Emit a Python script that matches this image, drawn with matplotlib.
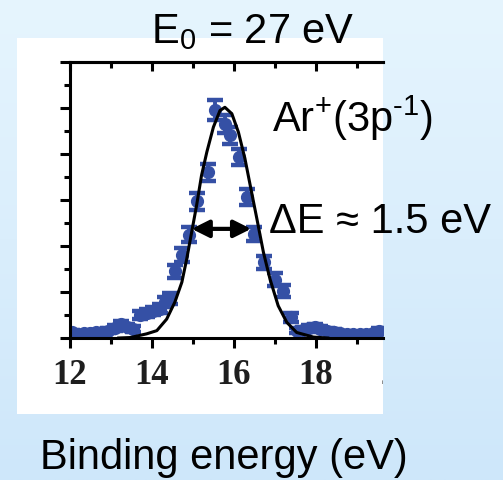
import numpy as np
import matplotlib.pyplot as plt
from matplotlib.patches import Rectangle
from matplotlib.transforms import Bbox, TransformedBbox, offset_copy

plt.rcParams['font.family'] = ['Liberation Sans', 'DejaVu Sans']
plt.rcParams['mathtext.fontset'] = 'custom'
plt.rcParams['mathtext.rm'] = 'Liberation Sans'
plt.rcParams['mathtext.it'] = 'Liberation Sans'

# measured points (binding energy in eV, intensity in arb. units)
energy = [12.05, 12.2, 12.35, 12.5, 12.65, 12.8, 12.95, 13.1, 13.25, 13.4,
          13.55, 13.72, 13.88, 14.04, 14.2, 14.33, 14.45, 14.58, 14.74, 14.92,
          15.12, 15.38, 15.55, 15.8, 15.92, 16.13, 16.32, 16.5, 16.75, 17.01,
          17.21, 17.4, 17.55, 17.7, 17.85, 17.98, 18.12, 18.28, 18.44, 18.6,
          18.76, 18.92, 19.08, 19.24, 19.4, 19.55]
counts = [0.12, 0.09, 0.10, 0.11, 0.13, 0.12, 0.16, 0.22, 0.31, 0.24,
          0.20, 0.50, 0.55, 0.58, 0.64, 0.78, 0.86, 1.45, 1.81, 2.24,
          2.97, 3.60, 4.95, 4.65, 4.40, 3.93, 3.06, 2.26, 1.64, 1.27,
          1.03, 0.45, 0.16, 0.18, 0.22, 0.24, 0.19, 0.16, 0.14, 0.11,
          0.09, 0.09, 0.08, 0.09, 0.11, 0.16]
errors = [0.05, 0.05, 0.05, 0.05, 0.05, 0.05, 0.05, 0.06, 0.07, 0.06,
          0.06, 0.09, 0.09, 0.09, 0.10, 0.11, 0.12, 0.14, 0.15, 0.16,
          0.18, 0.18, 0.21, 0.19, 0.18, 0.18, 0.18, 0.16, 0.15, 0.14,
          0.13, 0.10, 0.06, 0.06, 0.07, 0.07, 0.06, 0.06, 0.05, 0.05,
          0.05, 0.05, 0.05, 0.05, 0.05, 0.06]

# fitted curve
fit_energy = [13.2, 13.48, 13.88, 14.13, 14.37, 14.57, 14.74, 14.86, 14.98, 15.10,
              15.22, 15.35, 15.51, 15.67, 15.79, 15.96, 16.12, 16.28, 16.44, 16.57,
              16.73, 16.89, 17.09, 17.30, 17.54, 17.95, 18.3]
fit_counts = [0.0, 0.01, 0.09, 0.16, 0.41, 0.78, 1.21, 1.72, 2.30, 2.88,
              3.53, 4.04, 4.58, 4.94, 5.01, 4.87, 4.47, 3.89, 3.17, 2.59,
              1.86, 1.28, 0.70, 0.34, 0.12, 0.02, 0.0]

# width marker
fwhm_left, fwhm_right, half_level = 14.98, 16.43, 2.37

xticks = [12, 14, 16, 18]
xtick_labels = ['12', '14', '16', '18']
xminor = [13, 15, 17, 19]

blue = '#3550a5'
W, H = 503, 481

fig = plt.figure(figsize=(W / 100, H / 100), dpi=100)

# light blue slide background
bg = fig.add_axes([0, 0, 1, 1], zorder=-10)
c_top = np.array([230, 245, 254]) / 255
c_bot = np.array([206, 231, 250]) / 255
t = np.linspace(0, 1, 256)[:, None]
bg.imshow((c_top + (c_bot - c_top) * t)[:, None, :], aspect='auto',
          extent=[0, 1, 0, 1])
bg.axis('off')

# white panel behind the plot
panel = Rectangle((17 / W, 1 - 415 / H), 366 / W, 376 / H,
                  transform=fig.transFigure, facecolor='white',
                  edgecolor='none', zorder=-5)
fig.add_artist(panel)

ax = fig.add_axes([69.5 / W, 1 - 339 / H, (383 - 69.5) / W, (339 - 62.7) / H])
ax.set_facecolor('white')

ax.errorbar(energy, counts, yerr=errors, fmt='o', color=blue, ms=8.5,
            elinewidth=2.8, capsize=6, capthick=3.2, zorder=2)
ax.plot(fit_energy, fit_counts, color='black', lw=2.2, zorder=3)
ax.annotate('', xy=(fwhm_right, half_level), xytext=(fwhm_left, half_level),
            arrowprops=dict(arrowstyle='<|-|>', color='black', lw=3,
                            mutation_scale=26, shrinkA=0, shrinkB=0),
            zorder=4)

ax.set_xlim(12, 12 + (383 - 69.5) / 41)
ax.set_ylim(0, 6)

for side in ['left', 'bottom', 'top']:
    ax.spines[side].set_linewidth(2.2)
ax.spines['right'].set_visible(False)

tick_font = dict(fontfamily='Liberation Serif', fontweight='bold',
                 fontsize=25, color='#1e1e1e')
ax.set_xticks(xticks)
ax.set_xticks(xminor, minor=True)
ax.set_xticklabels(xtick_labels, **tick_font)
ax.set_yticks(np.arange(0, 7, 1))
ax.set_yticks(np.arange(0.5, 6, 1), minor=True)
ax.set_yticklabels([])
ax.tick_params(axis='both', which='major', direction='out', length=7.5,
               width=2.2, pad=7)
ax.tick_params(axis='both', which='minor', direction='out', length=4,
               width=2.2)

top = ax.secondary_xaxis('top')
top.set_xticks(xticks)
top.set_xticks(xminor, minor=True)
top.tick_params(axis='x', which='major', direction='in', length=6.5,
                width=2.2, labeltop=False)
top.tick_params(axis='x', which='minor', direction='in', length=4,
                width=2.2)
top.spines['top'].set_linewidth(2.2)

# the "20" label is cut by the white panel
lbl = fig.text(20, 0, '20', transform=offset_copy(ax.get_xaxis_transform(),
               fig=fig, y=-14.5, units='points'),
               ha='center', va='top', **tick_font)
lbl.set_clip_box(TransformedBbox(Bbox.from_bounds(17 / W, 0, 366 / W, 1),
                                 fig.transFigure))
lbl.set_clip_on(True)

fs = 30
fig.text(151 / W, 1 - 43.3 / H, r'E$_0$ = 27 eV', fontsize=fs,
         ha='left', va='baseline')
fig.text(272 / W, 1 - 131.7 / H, r'Ar$^{+}$(3p$^{\text{-1}}$)', fontsize=fs,
         ha='left', va='baseline')
fig.text(269 / W, 1 - 233.3 / H, 'ΔE ≈ 1.5 eV', fontsize=fs,
         ha='left', va='baseline')
fig.text(40 / W, 1 - 469.5 / H, 'Binding energy (eV)', fontsize=fs,
         ha='left', va='baseline')

fig.savefig('out.png', dpi=100)
